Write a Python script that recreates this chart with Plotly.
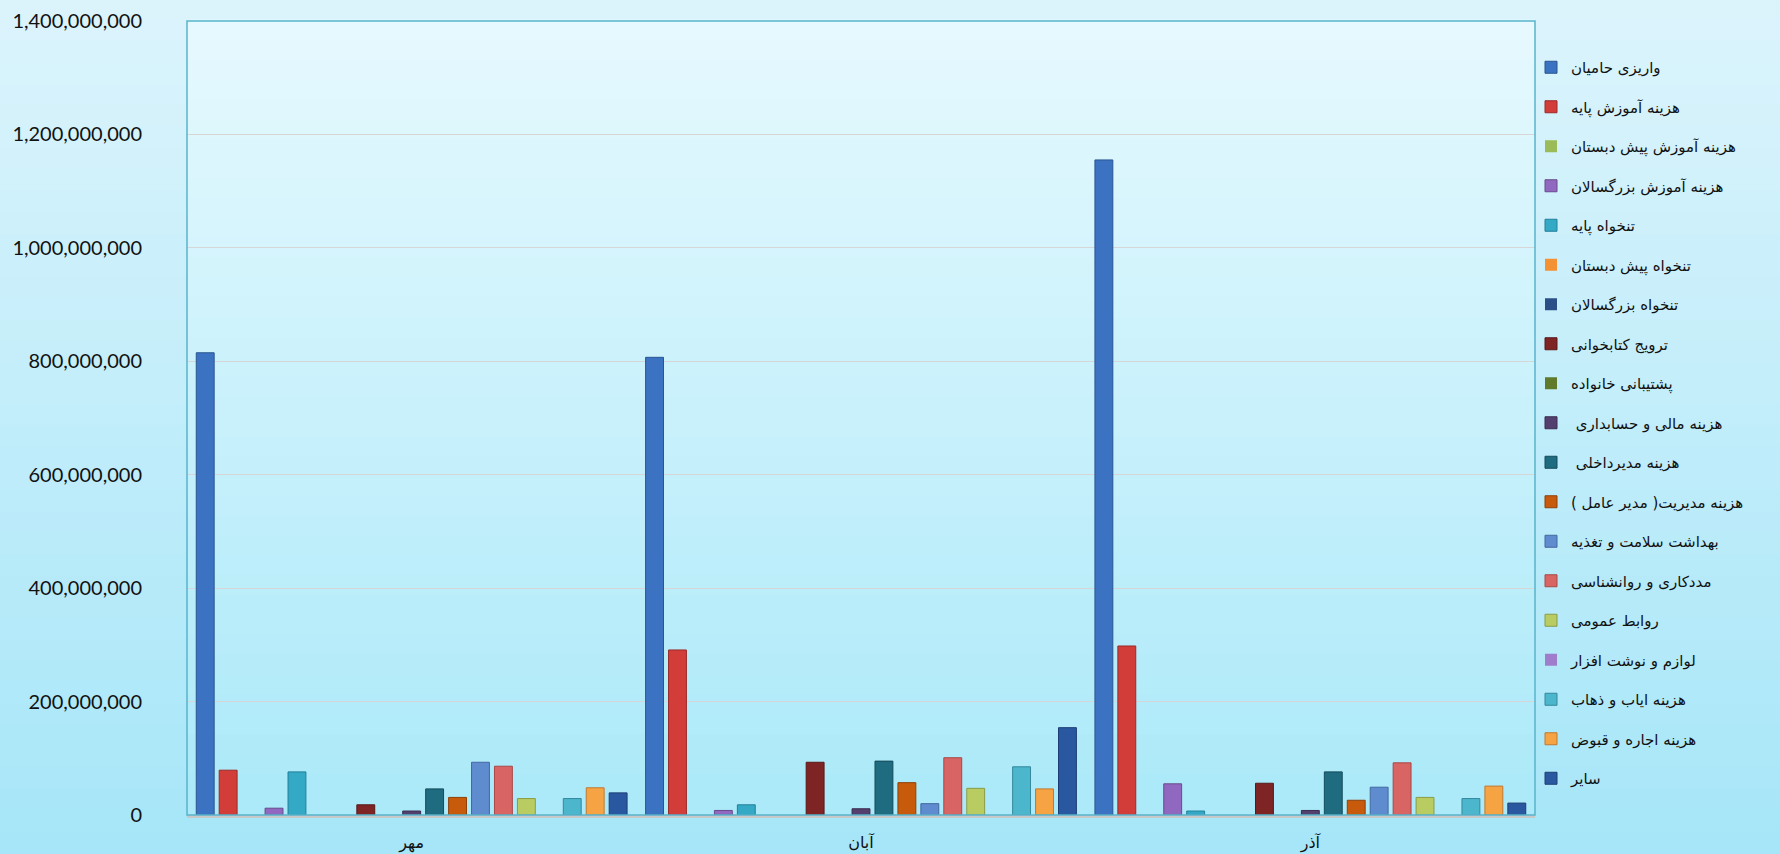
import plotly.graph_objects as go

# ---- data ----
months = ["مهر", "آبان", "آذر"]
series_names = [
    "واریزی حامیان",
    "هزینه آموزش پایه",
    "هزینه آموزش پیش دبستان",
    "هزینه آموزش بزرگسالان",
    "تنخواه پایه",
    "تنخواه پیش دبستان",
    "تنخواه بزرگسالان",
    "ترویج کتابخوانی",
    "پشتیبانی خانواده",
    "هزینه مالی و حسابداری ",
    "هزینه مدیرداخلی ",
    "هزینه مدیریت( مدیر عامل )",
    "بهداشت سلامت و تغذیه",
    "مددکاری و روانشناسی",
    "روابط عمومی",
    "لوازم و نوشت افزار",
    "هزینه ایاب و ذهاب",
    "هزینه اجاره و قبوض",
    "سایر",
]
mehr = [815e6, 79e6, 0, 12e6, 76e6, 0, 0, 18e6, 0, 7e6, 46e6, 31e6, 93e6, 86e6, 29e6, 0, 29e6, 48e6, 39e6]
aban = [807e6, 291e6, 0, 8e6, 18e6, 0, 0, 93e6, 0, 11e6, 95e6, 57e6, 20e6, 101e6, 47e6, 0, 85e6, 46e6, 154e6]
azar = [1155e6, 298e6, 0, 55e6, 7e6, 0, 0, 56e6, 0, 8e6, 76e6, 26e6, 49e6, 92e6, 31e6, 0, 29e6, 51e6, 21e6]
y_ticks = [0, 200e6, 400e6, 600e6, 800e6, 1000e6, 1200e6, 1400e6]

colors = [
    "#3b73c2", "#d23d3a", "#9bbb59", "#9068bf", "#33a9c6", "#f39135", "#2b4f86",
    "#7e2424", "#5f7a2a", "#54406e", "#1f6b7f", "#c85a0c", "#5f8bcf", "#d86464",
    "#b8cc62", "#a07ccc", "#4cb6cc", "#f6a344", "#2a58a0",
]
line_colors = [
    "#2a5590", "#9a2a28", "#728a40", "#684a8c", "#22809a", "#b86a20", "#1c365c",
    "#5a1818", "#44581e", "#3a2c50", "#144c5c", "#8e4008", "#4468a0", "#a84848",
    "#8a9c48", "#7858a0", "#34889c", "#c07830", "#1c3e74",
]

RLM = "\u200f"  # keeps each label in right-to-left order

fig = go.Figure()
for i, name in enumerate(series_names):
    vals = [mehr[i], aban[i], azar[i]]
    fig.add_trace(go.Bar(
        x=months,
        y=vals,
        name=name + RLM,
        legendgroup=f"g{i}",
        marker=dict(color=colors[i],
                    line=dict(color=line_colors[i], width=[1 if v else 0 for v in vals])),
    ))

# background gradient bands
shapes = []
n = 40
top_c = (0xdc, 0xf4, 0xfc)
bot_c = (0xa6, 0xe6, 0xf8)
pl_top = (0xe6, 0xf9, 0xfe)
pl_bot = (0xab, 0xe9, 0xf9)
W, H = 1780, 854
L, R, T, B = 187, 1535, 21, 815
pw, ph = R - L, B - T
for k in range(n):
    f = (k + 0.5) / n
    c = tuple(int(round(top_c[j] + (bot_c[j] - top_c[j]) * f)) for j in range(3))
    ytop = H * k / n
    ybot = H * (k + 1) / n
    shapes.append(dict(type="rect", xref="paper", yref="paper",
                       x0=-L / pw, x1=(W - L) / pw,
                       y0=(B - ybot) / ph - 0.002, y1=(B - ytop) / ph + 0.002,
                       fillcolor="rgb(%d,%d,%d)" % c, line=dict(width=0), layer="below"))
for k in range(n):
    f = (k + 0.5) / n
    c = tuple(int(round(pl_top[j] + (pl_bot[j] - pl_top[j]) * f)) for j in range(3))
    shapes.append(dict(type="rect", xref="paper", yref="paper",
                       x0=0, x1=1, y0=1 - (k + 1) / n - 0.002, y1=1 - k / n + 0.002,
                       fillcolor="rgb(%d,%d,%d)" % c, line=dict(width=0), layer="below"))
shapes.append(dict(type="rect", xref="paper", yref="paper", x0=0, x1=1, y0=0, y1=1,
                   line=dict(color="#58b4cc", width=1.5), layer="above"))

fig.update_layout(
    width=W, height=H,
    margin=dict(l=L, r=W - R, t=T, b=H - B, autoexpand=False),
    paper_bgcolor="#c4eefa",
    plot_bgcolor="rgba(0,0,0,0)",
    barmode="group",
    bargap=0.03,
    bargroupgap=0.22,
    shapes=shapes,
    showlegend=True,
    legend=dict(
        x=(1531 - L) / pw, xanchor="left",
        y=(H - 51) / H, yanchor="top",
        yref="container",
        bgcolor="rgba(0,0,0,0)",
        font=dict(family="DejaVu Sans", size=15, color="#111"),
        tracegroupgap=17,
        itemwidth=30,
        maxheight=820,
    ),
    font=dict(family="DejaVu Sans", color="#111"),
)
fig.update_yaxes(
    range=[0, 1400e6],
    tickvals=y_ticks,
    tickformat=",",
    showgrid=True, gridcolor="#d6d6d6", gridwidth=1,
    zeroline=False,
    showline=False,
    ticks="",
    ticklabelstandoff=44,
    tickfont=dict(family="Lato", size=20, color="#111"),
)
fig.update_xaxes(
    showline=True, linecolor="#c8c8c8", linewidth=3,
    ticks="",
    ticklabelstandoff=11,
    tickfont=dict(family="DejaVu Sans", size=16, color="#111"),
)

fig.write_html("out.html", config={"displayModeBar": False},
               post_script="document.body.style.margin='0';document.body.style.overflow='hidden';")
